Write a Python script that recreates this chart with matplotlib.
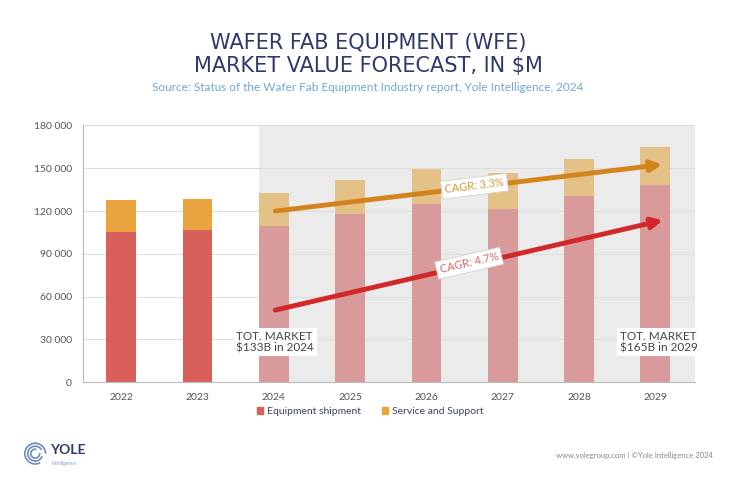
import matplotlib.pyplot as plt
from matplotlib.patches import Patch, Arc
import matplotlib.ticker as mticker

years = ['2022', '2023', '2024', '2025', '2026', '2027', '2028', '2029']
equipment = [105000, 107000, 109600, 117800, 124800, 121300, 130400, 138100]
service = [22600, 21700, 22900, 23800, 25000, 25400, 26400, 26900]
n_actual = 2  # 2022-2023 are actuals, the rest forecast

cagr_labels = ['CAGR: 3.3%', 'CAGR: 4.7%']
tot_labels = ['TOT. MARKET\n$133B in 2024', 'TOT. MARKET\n$165B in 2029']

navy = '#2F3A6B'
red = '#D9605A'
orange = '#E9A43E'
red_f = '#D99A9C'
orange_f = '#E4C187'

plt.rcParams['font.family'] = ['Lato', 'DejaVu Sans']

fig = plt.figure(figsize=(7.33, 4.92), dpi=100)
ax = fig.add_axes([0.1132, 0.223, 0.835, 0.522])

x = list(range(len(years)))
ax.axvspan(n_actual - 0.2, 7.52, color='#EBEBEB', zorder=0, lw=0)
for i in x:
    c1 = red if i < n_actual else red_f
    c2 = orange if i < n_actual else orange_f
    ax.bar(i, equipment[i], width=0.39, color=c1, zorder=2)
    ax.bar(i, service[i], bottom=equipment[i], width=0.39, color=c2, zorder=2)

ax.set_xlim(-0.5, 7.52)
ax.set_ylim(0, 180000)
ax.set_yticks(range(0, 180001, 30000))
ax.yaxis.set_major_formatter(mticker.FuncFormatter(lambda v, p: f'{int(v):,}'.replace(',', ' ')))
ax.set_xticks(x)
ax.set_xticklabels(years)
ax.tick_params(length=0, labelsize=7.5, colors='#555555', pad=8)
ax.grid(axis='y', color='#DDDDDD', lw=0.8, zorder=1)
for s in ['top', 'right']:
    ax.spines[s].set_visible(False)
ax.spines['left'].set_color('#BBBBBB')
ax.spines['bottom'].set_color('#BBBBBB')

# CAGR arrows
ax.annotate('', xy=(7.09, 152600), xytext=(2.02, 120000),
            arrowprops=dict(arrowstyle='-|>', lw=3.5, color='#D4841C', mutation_scale=16,
                            shrinkA=0, shrinkB=0), zorder=4)
ax.annotate('', xy=(7.1, 113600), xytext=(2.02, 50600),
            arrowprops=dict(arrowstyle='-|>', lw=3.5, color='#D2282A', mutation_scale=16,
                            shrinkA=0, shrinkB=0), zorder=4)
ax.text(4.63, 137400, cagr_labels[0], rotation=7, ha='center', va='center', fontsize=8,
        color='#D79A3A', zorder=5,
        bbox=dict(boxstyle='square,pad=0.3', fc='white', ec='#CCCCCC', lw=0.5))
ax.text(4.56, 83500, cagr_labels[1], rotation=13, ha='center', va='center', fontsize=8,
        color='#D46A6A', zorder=5,
        bbox=dict(boxstyle='square,pad=0.3', fc='white', ec='#CCCCCC', lw=0.5))

ax.text(1.51, 28200, tot_labels[0], ha='left', va='center', fontsize=8.5, color='#444444',
        linespacing=1.05, zorder=5, bbox=dict(boxstyle='square,pad=0.25', fc='white', ec='none'))
ax.text(6.54, 28200, tot_labels[1], ha='left', va='center', fontsize=8.5, color='#444444',
        linespacing=1.05, zorder=5, bbox=dict(boxstyle='square,pad=0.25', fc='white', ec='none'))

# titles
fig.text(0.502, 0.912, 'WAFER FAB EQUIPMENT (WFE)', ha='center', va='center',
         fontsize=15, color=navy, family='DejaVu Sans')
fig.text(0.502, 0.866, 'MARKET VALUE FORECAST, IN $M', ha='center', va='center',
         fontsize=15, color=navy, family='DejaVu Sans')
fig.text(0.502, 0.822, 'Source: Status of the Wafer Fab Equipment Industry report, Yole Intelligence, 2024',
         ha='center', va='center', fontsize=8.5, color='#6FA6D6')

handles = [Patch(color=red, label='Equipment shipment'),
           Patch(color=orange, label='Service and Support')]
fig.legend(handles=handles, loc='center', bbox_to_anchor=(0.505, 0.163), ncol=2,
           frameon=False, fontsize=7.5, handlelength=0.6, handleheight=0.6,
           handletextpad=0.4, columnspacing=2.0, labelcolor='#3A4260')

# footer
for r, a in [(0.014, 0), (0.010, 40), (0.006, 80)]:
    fig.patches.append(Arc((0.048, 0.078), r * 2 * 492 / 733 * 1.5, r * 2 * 1.0 * 1.5,
                           theta1=a, theta2=a + 290, transform=fig.transFigure,
                           color='#6C8CB5', lw=1.2))
fig.text(0.068, 0.086, 'YOLE', fontsize=10, fontweight='bold', color=navy, va='center')
fig.text(0.070, 0.058, 'Intelligence', fontsize=3.5, color='#7A9CC6', va='center')
fig.text(0.972, 0.075, 'www.yolegroup.com | ©Yole Intelligence 2024', ha='right', va='center',
         fontsize=5.5, color='#888888')

fig.savefig('out.png', dpi=100, facecolor='white')
